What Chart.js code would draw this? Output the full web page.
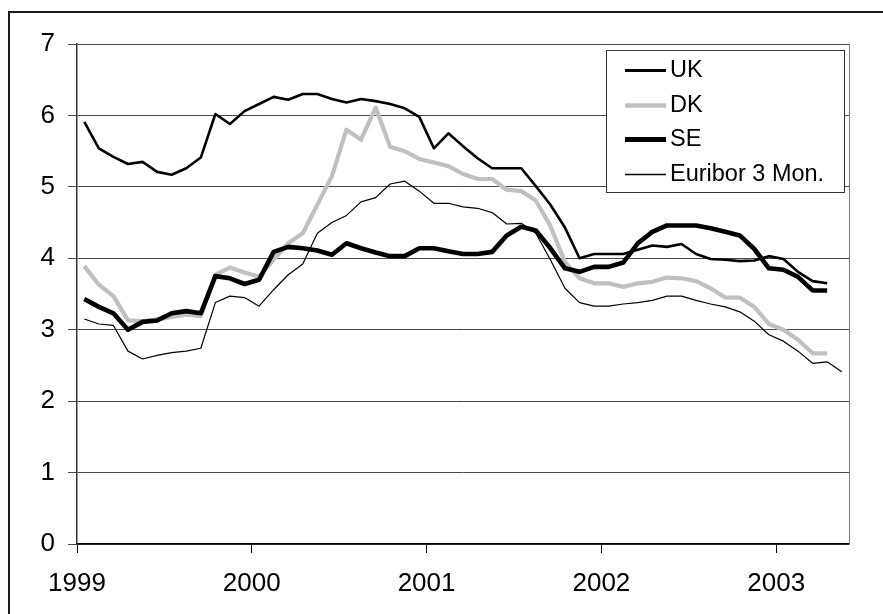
<!DOCTYPE html>
<html>
<head>
<meta charset="utf-8">
<title>Interest rates 1999-2003</title>
<script src="https://cdn.jsdelivr.net/npm/chart.js@4/dist/chart.umd.min.js"></script>
<style>
  html, body { margin: 0; padding: 0; background: #ffffff; }
  #wrap { position: relative; width: 883px; height: 614px; overflow: hidden; }
  canvas { display: block; }
</style>
</head>
<body>
<div id="wrap"><canvas id="chart" width="883" height="614"></canvas></div>
<script>
// Monthly rates, January 1999 onwards (%)
const yearLabels = ['1999', '2000', '2001', '2002', '2003'];
const seriesNames = ['UK', 'DK', 'SE', 'Euribor 3 Mon.'];

const ukRates = [
  5.91, 5.54, 5.42, 5.32, 5.35, 5.21, 5.17, 5.26, 5.41, 6.02, 5.88, 6.06,
  6.16, 6.26, 6.22, 6.30, 6.30, 6.23, 6.18, 6.23, 6.20, 6.16, 6.10, 5.98,
  5.54, 5.75, 5.57, 5.40, 5.26, 5.26, 5.26, 5.01, 4.75, 4.43, 4.00, 4.06,
  4.06, 4.06, 4.12, 4.18, 4.16, 4.20, 4.06, 3.99, 3.98, 3.96, 3.97, 4.03,
  3.99, 3.81, 3.68, 3.65
];
const dkRates = [
  3.89, 3.63, 3.47, 3.13, 3.12, 3.14, 3.18, 3.21, 3.19, 3.77, 3.87, 3.80,
  3.74, 3.98, 4.21, 4.35, 4.75, 5.15, 5.80, 5.66, 6.11, 5.56, 5.50, 5.39,
  5.34, 5.29, 5.18, 5.11, 5.11, 4.96, 4.94, 4.81, 4.45, 3.95, 3.72, 3.65,
  3.65, 3.60, 3.65, 3.67, 3.73, 3.72, 3.68, 3.58, 3.45, 3.45, 3.32, 3.08,
  3.00, 2.86, 2.67, 2.67
];
const seRates = [
  3.43, 3.32, 3.23, 3.00, 3.11, 3.13, 3.23, 3.26, 3.23, 3.75, 3.72, 3.64,
  3.70, 4.09, 4.16, 4.14, 4.11, 4.05, 4.21, 4.14, 4.08, 4.03, 4.03, 4.14,
  4.14, 4.10, 4.06, 4.06, 4.09, 4.32, 4.44, 4.39, 4.14, 3.86, 3.81, 3.88,
  3.88, 3.94, 4.21, 4.37, 4.46, 4.46, 4.46, 4.42, 4.37, 4.32, 4.13, 3.86,
  3.84, 3.74, 3.55, 3.55
];
const euriborRates = [
  3.15, 3.08, 3.06, 2.70, 2.59, 2.64, 2.68, 2.70, 2.74, 3.38, 3.47, 3.45,
  3.33, 3.56, 3.77, 3.92, 4.35, 4.50, 4.60, 4.79, 4.85, 5.04, 5.08, 4.94,
  4.77, 4.77, 4.72, 4.70, 4.64, 4.48, 4.49, 4.35, 3.98, 3.58, 3.38, 3.33,
  3.33, 3.36, 3.38, 3.41, 3.47, 3.47, 3.41, 3.36, 3.32, 3.25, 3.12, 2.93,
  2.84, 2.70, 2.53, 2.55, 2.41
];
const yTicks = [0, 1, 2, 3, 4, 5, 6, 7];

// each month sits in the middle of its slot on a month-based axis
const toPoints = arr => arr.map((v, i) => ({ x: i + 0.5, y: v }));
const monthSpan = 53;

const FONT = "'Liberation Sans', Arial, sans-serif";

// frame around the whole figure and right edge of the plot area
const framePlugin = {
  id: 'frame',
  beforeDraw(chart) {
    const ctx = chart.ctx;
    ctx.save();
    ctx.fillStyle = '#ffffff';
    ctx.fillRect(0, 0, chart.width, chart.height);
    ctx.strokeStyle = '#1a1a1a';
    ctx.lineWidth = 2;
    ctx.strokeRect(9, 12, chart.width + 20, chart.height + 20);
    ctx.restore();
  },
  afterDatasetsDraw(chart) {
    const { ctx, chartArea } = chart;
    ctx.save();
    ctx.strokeStyle = '#808080';
    ctx.lineWidth = 1;
    ctx.beginPath();
    ctx.moveTo(Math.round(chartArea.right) + 0.5, chartArea.top);
    ctx.lineTo(Math.round(chartArea.right) + 0.5, chartArea.bottom);
    ctx.stroke();
    ctx.restore();
  }
};

// boxed legend inside the plot, top right
const boxLegend = {
  id: 'boxLegend',
  afterDraw(chart) {
    const ctx = chart.ctx;
    const box = { x: 606, y: 50, w: 238, h: 142 };
    ctx.save();
    ctx.fillStyle = '#ffffff';
    ctx.fillRect(box.x, box.y, box.w, box.h);
    ctx.strokeStyle = '#333333';
    ctx.lineWidth = 1;
    ctx.strokeRect(box.x + 0.5, box.y + 0.5, box.w, box.h);
    ctx.font = '23.5px ' + FONT;
    ctx.textBaseline = 'middle';
    ctx.textAlign = 'left';
    chart.data.datasets.forEach((ds, i) => {
      const y = 70 + i * 34.5;
      ctx.strokeStyle = ds.borderColor;
      ctx.lineWidth = ds.legendWidth;
      ctx.beginPath();
      ctx.moveTo(625, Math.round(y) + 0.5);
      ctx.lineTo(666, Math.round(y) + 0.5);
      ctx.stroke();
      ctx.fillStyle = '#000000';
      ctx.fillText(ds.label, 670, y + 1);
    });
    ctx.restore();
  }
};

const yearTicks = yearLabels.map((_, i) => i * 12);

new Chart(document.getElementById('chart'), {
  type: 'line',
  data: {
    datasets: [
      { label: seriesNames[0], data: toPoints(ukRates), borderColor: '#000000', borderWidth: 2.6, legendWidth: 3, order: 4 },
      { label: seriesNames[1], data: toPoints(dkRates), borderColor: '#c0c0c0', borderWidth: 4.2, legendWidth: 4.5, order: 3 },
      { label: seriesNames[2], data: toPoints(seRates), borderColor: '#000000', borderWidth: 4.6, legendWidth: 5, order: 2 },
      { label: seriesNames[3], data: toPoints(euriborRates), borderColor: '#000000', borderWidth: 1.2, legendWidth: 1.5, order: 1 }
    ].map(ds => Object.assign(ds, {
      fill: false, tension: 0, pointRadius: 0, pointHoverRadius: 0,
      borderJoinStyle: 'round', borderCapStyle: 'butt'
    }))
  },
  options: {
    responsive: false,
    animation: false,
    events: [],
    layout: { padding: { left: 0, top: 44, right: 34, bottom: 0 } },
    plugins: { legend: { display: false }, tooltip: { enabled: false } },
    scales: {
      x: {
        type: 'linear',
        min: 0,
        max: monthSpan,
        afterBuildTicks(scale) { scale.ticks = yearTicks.map(v => ({ value: v })); },
        afterFit(scale) { scale.height = 70; },
        ticks: {
          callback: v => yearLabels[v / 12],
          color: '#000000',
          font: { family: FONT, size: 26 },
          padding: 15,
          maxRotation: 0,
          autoSkip: false
        },
        grid: { drawOnChartArea: false, drawTicks: true, tickLength: 9, color: '#000000', lineWidth: 1 },
        border: { display: true, color: '#000000', width: 1.5 }
      },
      y: {
        min: 0,
        max: 7,
        afterBuildTicks(scale) { scale.ticks = yTicks.map(v => ({ value: v })); },
        afterFit(scale) { scale.width = 77; },
        ticks: {
          color: '#000000',
          font: { family: FONT, size: 26 },
          padding: 13
        },
        grid: { drawTicks: true, tickLength: 9, color: '#4a4a4a', lineWidth: 1 },
        border: { display: true, color: '#333333', width: 1.5 }
      }
    }
  },
  plugins: [framePlugin, boxLegend]
});
</script>
</body>
</html>
